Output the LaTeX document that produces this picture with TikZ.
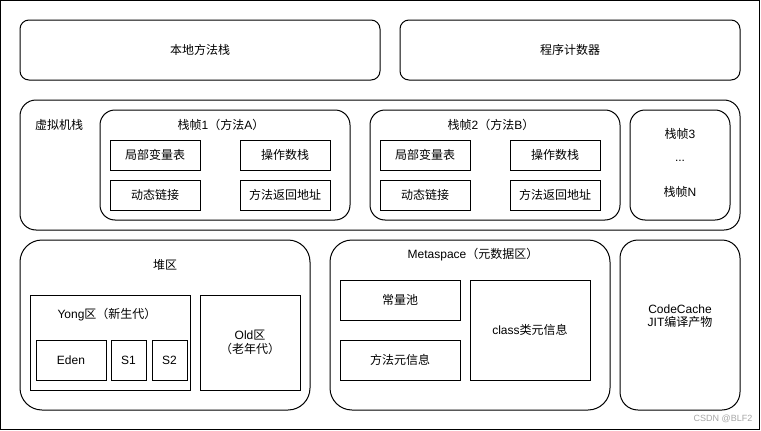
\documentclass[tikz,border=0pt]{standalone}
\usepackage{fontspec}
\setmainfont{Liberation Sans}
\newfontfamily\cjk{Noto Sans CJK SC}
\begin{document}
\begin{tikzpicture}[x=1pt,y=-1pt,
  box/.style={draw=black, line width=1pt, fill=white, inner sep=0pt, align=center,
    font=\fontsize{12}{14.4}\selectfont},
  rbox/.style={box, rounded corners=#1},
  lbl/.style={inner sep=0pt, align=center, font=\fontsize{12}{14.4}\selectfont},
  wmark/.style={inner sep=0pt, text=black!35, font=\fontsize{9}{10}\selectfont}
]
\useasboundingbox (0,0) rectangle (761,431);
\node[draw=black, line width=1.2pt, minimum width=759pt, minimum height=429pt, inner sep=0pt] (frame) at (380,215) {};

% top row
\node[rbox=9pt, minimum width=360pt, minimum height=60pt] (native) at (200,50) {\cjk 本地方法栈};
\node[rbox=9pt, minimum width=340pt, minimum height=60pt] (pc) at (570,50) {\cjk 程序计数器};

% VM stack
\node[rbox=16pt, minimum width=720pt, minimum height=130pt] (vms) at (380,165) {};
\node[lbl] (vmslbl) at (59,125) {\cjk 虚拟机栈};

\node[rbox=15pt, minimum width=250pt, minimum height=110pt] (f1) at (225,165) {};
\node[lbl] (f1lbl) at (221,125) {{\cjk 栈帧}1{\cjk （方法}A{\cjk ）}};
\node[box, minimum width=90pt, minimum height=30pt] (lv1) at (155,155) {\cjk 局部变量表};
\node[box, minimum width=90pt, minimum height=30pt] (op1) at (285,155) {\cjk 操作数栈};
\node[box, minimum width=90pt, minimum height=30pt] (dl1) at (155,195) {\cjk 动态链接};
\node[box, minimum width=90pt, minimum height=30pt] (ra1) at (285,195) {\cjk 方法返回地址};

\node[rbox=15pt, minimum width=250pt, minimum height=110pt] (f2) at (495,165) {};
\node[lbl] (f2lbl) at (491,125) {{\cjk 栈帧}2{\cjk （方法}B{\cjk ）}};
\node[box, minimum width=90pt, minimum height=30pt] (lv2) at (425,155) {\cjk 局部变量表};
\node[box, minimum width=90pt, minimum height=30pt] (op2) at (555,155) {\cjk 操作数栈};
\node[box, minimum width=90pt, minimum height=30pt] (dl2) at (425,195) {\cjk 动态链接};
\node[box, minimum width=90pt, minimum height=30pt] (ra2) at (555,195) {\cjk 方法返回地址};

\node[rbox=15pt, minimum width=100pt, minimum height=110pt] (f3) at (680,165) {};
\node[lbl] (f3a) at (680,134) {{\cjk 栈帧}3};
\node[lbl] (f3b) at (680,161) {...};
\node[lbl] (f3n) at (680,192) {{\cjk 栈帧}N};

% heap
\node[rbox=22pt, minimum width=290pt, minimum height=170pt] (heap) at (165,325) {};
\node[lbl] (heaplbl) at (165,265) {\cjk 堆区};
\node[box, minimum width=160pt, minimum height=95pt] (yong) at (110,342.5) {};
\node[lbl] (yonglbl) at (107,315) {Yong{\cjk 区（新生代）}};
\node[box, minimum width=70pt, minimum height=40pt] (eden) at (71,360) {Eden};
\node[box, minimum width=35pt, minimum height=40pt] (s1) at (128.5,360) {S1};
\node[box, minimum width=35pt, minimum height=40pt] (s2) at (169.5,360) {S2};
\node[box, minimum width=100pt, minimum height=95pt] (old) at (250,342.5) {Old{\cjk 区}\\[-1pt]{\cjk （老年代）}};

% metaspace
\node[rbox=22pt, minimum width=280pt, minimum height=170pt] (meta) at (470,325) {};
\node[lbl] (metalbl) at (473,255) {Metaspace{\cjk （元数据区）}};
\node[box, minimum width=120pt, minimum height=40pt] (cpool) at (400,300) {\cjk 常量池};
\node[box, minimum width=120pt, minimum height=40pt] (minfo) at (400,360) {\cjk 方法元信息};
\node[box, minimum width=120pt, minimum height=100pt] (cinfo) at (530,330) {class{\cjk 类元信息}};

% code cache
\node[rbox=18pt, minimum width=120pt, minimum height=170pt] (code) at (680,325) {};
\node[lbl] (codelbl) at (680,316) {CodeCache\\[-1pt]JIT{\cjk 编译产物}};

\node[wmark] (wm) at (723,419) {CSDN @BLF2};
\end{tikzpicture}
\end{document}
